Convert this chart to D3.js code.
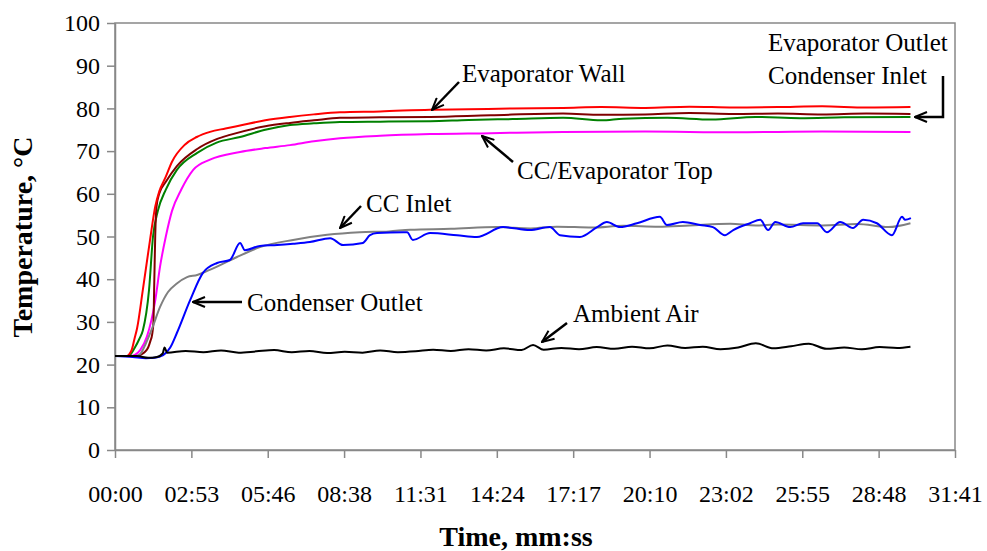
<!DOCTYPE html>
<html>
<head>
<meta charset="utf-8">
<script src="https://cdn.jsdelivr.net/npm/d3@7"></script>
<style>
body { margin: 0; background: #fff; }
svg { display: block; }
svg text { font-family: "Liberation Serif", "Times New Roman", Times, serif; fill: #000; }
.tick text { font-size: 24px; }
.domain, .tick line { stroke: #888; stroke-width: 1.5px; }
.frame { fill: none; stroke: #888; stroke-width: 1.5px; }
.series { fill: none; stroke-width: 2px; stroke-linejoin: round; }
.note { font-size: 25px; }
.pointer { fill: none; stroke: #000; stroke-width: 2.5px; }
.axis-title { font-size: 28px; font-weight: bold; }
</style>
</head>
<body>
<svg width="987" height="551"></svg>
<script>
// values: [seconds, °C]
const evapWall = [[0,22],[27,22],[33,22.5],[38,23.5],[44,26],[50,28.5],[63,37.5],[79,49],[91,57],[100,60.5],[115,64],[129,67.5],[158,71.5],[185,73.3],[215,74.5],[250,75.3],[283,76],[340,77.2],[396,78],[450,78.6],[509,79.1],[600,79.3],[713,79.7],[800,79.8],[900,80],[1014,80.1],[1100,80.3],[1200,80.1],[1300,80.4],[1400,80.2],[1500,80.3],[1600,80.5],[1700,80.2],[1800,80.3]];
const evapOutlet = [[0,22],[50,22],[60,22.4],[68,23],[75,24],[80,25.5],[84,27],[87,30],[89,40],[91,50],[94,57],[100,60],[115,62.8],[140,66.5],[186,70.5],[230,72.8],[260,73.8],[340,75.8],[396,76.6],[450,77.2],[509,77.8],[600,77.9],[713,78],[850,78.4],[1014,78.8],[1100,78.5],[1200,78.6],[1300,78.9],[1400,78.7],[1500,78.8],[1600,78.6],[1700,78.8],[1800,78.7]];
const condInlet = [[0,22],[30,22],[36,22.5],[45,24],[55,26],[63,28],[77,37.5],[86,50],[97,56],[115,61],[140,65.6],[186,69.6],[230,72],[283,73.3],[340,75],[396,76.1],[450,76.5],[509,76.8],[600,76.9],[713,77],[800,77.3],[900,77.5],[1014,77.8],[1100,77.2],[1150,77.6],[1250,77.8],[1350,77.4],[1450,78],[1550,77.7],[1650,77.9],[1800,78]];
const ccEvapTop = [[0,22],[35,22],[45,22.3],[57,23.4],[72,26.5],[91,35],[102,43],[115,50],[129,56],[150,61],[177,65.6],[215,68],[283,69.8],[340,70.7],[396,71.4],[450,72.3],[509,73],[600,73.6],[713,74],[850,74.2],[1014,74.5],[1200,74.6],[1400,74.4],[1600,74.6],[1800,74.5]];
const ccInlet = [[0,22],[45,22],[57,22.5],[70,25],[84,28.5],[102,33.5],[120,37],[140,39],[163,40.5],[186,41],[210,42],[238,43.3],[276,45.2],[328,47.5],[403,49.2],[480,50.4],[554,51],[620,51.2],[668,51.6],[760,51.8],[864,52.2],[940,51.9],[1000,52.3],[1080,52.1],[1150,52.5],[1230,52.3],[1300,52.6],[1392,53],[1450,52.6],[1500,52.8],[1600,52.6],[1680,52.9],[1750,52.2],[1800,53.1]];
const condOutlet = [[0,22],[40,21.8],[70,21.5],[90,21.6],[109,22.2],[125,24],[140,27.4],[170,35.1],[199,41.5],[231,43.8],[260,44.5],[283,48.5],[294,46.8],[328,47.8],[367,48],[403,48.3],[441,48.7],[487,49.6],[516,48],[561,48.5],[577,50.3],[593,50.8],[652,51],[661,51],[674,49.2],[713,50.8],[774,50.3],[819,49.9],[878,52.2],[939,51.5],[984,52.2],[1007,50.3],[1052,49.9],[1091,52.2],[1113,53.4],[1143,52.2],[1181,53.1],[1233,54.6],[1249,52.7],[1285,53.4],[1324,52.7],[1353,52.2],[1380,50.3],[1399,51.5],[1437,53.1],[1460,53.9],[1478,51.5],[1494,53.4],[1528,52.2],[1557,53.1],[1589,53.1],[1611,51],[1641,53.4],[1670,52],[1693,53.9],[1724,53.1],[1758,50.3],[1781,54.6],[1788,53.9],[1801,54.3]];
const ambientAir = [[0,22],[50,22],[75,21.6],[95,21.8],[108,22.6],[112,24],[118,22.8],[160,23.2],[200,22.9],[240,23.3],[280,22.8],[320,23.1],[360,23.4],[400,22.9],[440,23.2],[480,22.7],[520,23],[560,22.8],[600,23.3],[640,22.9],[680,23.1],[720,23.5],[760,23.2],[800,23.6],[840,23.3],[880,23.8],[920,23.4],[946,24.6],[970,23.5],[1010,23.9],[1050,23.6],[1090,24.1],[1130,23.7],[1170,24.2],[1210,23.8],[1250,24.5],[1290,23.9],[1330,24.2],[1370,23.6],[1410,24],[1450,25],[1490,23.8],[1530,24.3],[1570,24.9],[1610,23.7],[1650,24],[1690,23.6],[1730,24.1],[1770,23.9],[1800,24.2]];

const yTicks = d3.range(0, 101, 10);
const xTicks = d3.range(0, 12).map(i => i * 172.8);

const series = [
    { name: 'CC/Evaporator Top', values: ccEvapTop, color: '#ff00ff' },
    { name: 'Condenser Inlet', values: condInlet, color: '#008000' },
    { name: 'Evaporator Outlet', values: evapOutlet, color: '#800000' },
    { name: 'Evaporator Wall', values: evapWall, color: '#ff0000' },
    { name: 'CC Inlet', values: ccInlet, color: '#808080' },
    { name: 'Condenser Outlet', values: condOutlet, color: '#0000ff' },
    { name: 'Ambient Air', values: ambientAir, color: '#000000' }
];

const svg = d3.select('svg');
const plotLeft = 115, plotRight = 955, plotTop = 23, plotBottom = 450;

const x = d3.scaleLinear().domain([0, 1900.8]).range([plotLeft, plotRight]);
const y = d3.scaleLinear().domain([0, 100]).range([plotBottom, plotTop]);

const mmss = t => {
    const s = Math.round(t);
    return String(Math.floor(s / 60)).padStart(2, '0') + ':' + String(s % 60).padStart(2, '0');
};

svg.append('rect')
    .attr('class', 'frame')
    .attr('x', plotLeft).attr('y', plotTop)
    .attr('width', plotRight - plotLeft).attr('height', plotBottom - plotTop);

svg.append('g')
    .attr('transform', `translate(${plotLeft},0)`)
    .call(d3.axisLeft(y).tickValues(yTicks).tickSize(8).tickSizeOuter(0).tickPadding(7));

svg.append('g')
    .attr('transform', `translate(0,${plotBottom})`)
    .call(d3.axisBottom(x).tickValues(xTicks).tickFormat(mmss).tickSize(8).tickSizeOuter(0).tickPadding(27));

// lines
const line = d3.line()
    .x(d => x(d[0]))
    .y(d => y(d[1]))
    .curve(d3.curveMonotoneX);

svg.append('g').selectAll('path').data(series)
    .enter().append('path')
        .attr('class', 'series')
        .attr('stroke', d => d.color)
        .attr('d', d => line(d.values));

// arrow annotations
svg.append('defs').append('marker')
    .attr('id', 'head')
    .attr('viewBox', '0 0 14 12')
    .attr('refX', 13).attr('refY', 6)
    .attr('markerWidth', 14).attr('markerHeight', 12)
    .attr('markerUnits', 'userSpaceOnUse')
    .attr('orient', 'auto')
  .append('path')
    .attr('d', 'M1,1 L13,6 L1,11')
    .attr('fill', 'none')
    .attr('stroke', '#000')
    .attr('stroke-width', 2);

const notes = [
    { text: 'Evaporator Wall', tx: 462, ty: 82, path: [[459, 82], [432, 110]] },
    { text: 'CC/Evaporator Top', tx: 517, ty: 179, path: [[513, 162], [482, 136]] },
    { text: 'CC Inlet', tx: 366, ty: 212, path: [[361, 206], [340, 228]] },
    { text: 'Condenser Outlet', tx: 247, ty: 311, path: [[242, 302], [193, 302]] },
    { text: 'Ambient Air', tx: 573, ty: 322, path: [[567, 323], [542, 342]] },
    { text: 'Evaporator Outlet', tx: 768, ty: 51, path: null },
    { text: 'Condenser Inlet', tx: 768, ty: 84, path: [[943, 76], [943, 117], [915, 117]] }
];

svg.append('g').selectAll('text').data(notes)
    .enter().append('text')
        .attr('class', 'note')
        .attr('x', d => d.tx)
        .attr('y', d => d.ty)
        .text(d => d.text);

svg.append('g').selectAll('path').data(notes.filter(d => d.path))
    .enter().append('path')
        .attr('class', 'pointer')
        .attr('d', d => d3.line()(d.path))
        .attr('marker-end', 'url(#head)');

// axis titles
svg.append('text')
    .attr('class', 'axis-title')
    .attr('text-anchor', 'middle')
    .attr('x', 516).attr('y', 546)
    .text('Time, mm:ss');

svg.append('text')
    .attr('class', 'axis-title')
    .attr('text-anchor', 'middle')
    .attr('transform', 'translate(32,237) rotate(-90)')
    .text('Temperature, °C');
</script>
</body>
</html>
